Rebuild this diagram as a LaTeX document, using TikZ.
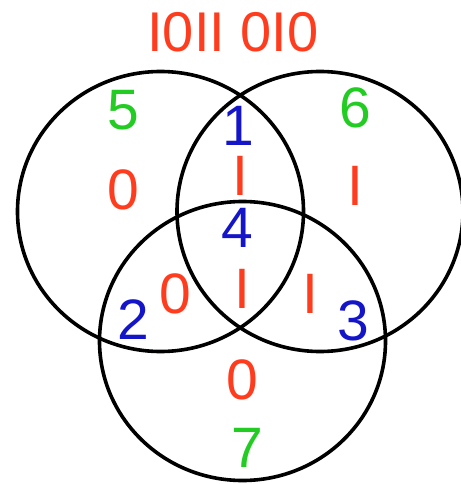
\documentclass[tikz,border=0pt]{standalone}
\usepackage{fontspec}
\setmainfont{Liberation Sans}
\definecolor{vred}{RGB}{255,60,30}
\definecolor{vgreen}{RGB}{34,204,34}
\definecolor{vblue}{RGB}{20,20,200}
\begin{document}
\begin{tikzpicture}[x=1pt,y=-1pt,
  ring/.style={draw=black,line width=3.6pt},
  lbl/.style={inner sep=0pt,font=\fontsize{57}{59}\selectfont},
  bit/.style={lbl,text=vred},
  idx/.style={lbl,text=vblue},
  par/.style={lbl,text=vgreen}]
\useasboundingbox (0,0) rectangle (460,484);
\draw[ring] (160.5,211.5) ellipse [x radius=143, y radius=140];
\draw[ring] (320,211.5) ellipse [x radius=143, y radius=140];
\draw[ring] (242.5,341) ellipse [x radius=143, y radius=139.5];
\node[bit,font=\fontsize{56}{58}\selectfont] (title) at (233,32) {I0II 0I0};
\node[par] (n5) at (123,110) {5};
\node[par] (n6) at (355,108) {6};
\node[par] (n7) at (247,448) {7};
\node[idx] (n1) at (238,126) {1};
\node[idx] (n4) at (237,228) {4};
\node[idx] (n2) at (133,320) {2};
\node[idx] (n3) at (353,321) {3};
\node[bit] (b5) at (123,190) {0};
\node[bit] (b1) at (240,176) {I};
\node[bit] (b6) at (355,186) {I};
\node[bit] (b4) at (242,289) {I};
\node[bit] (b2) at (175,294) {0};
\node[bit] (b3) at (310,294) {I};
\node[bit] (b7) at (242,380) {0};
\end{tikzpicture}
\end{document}
